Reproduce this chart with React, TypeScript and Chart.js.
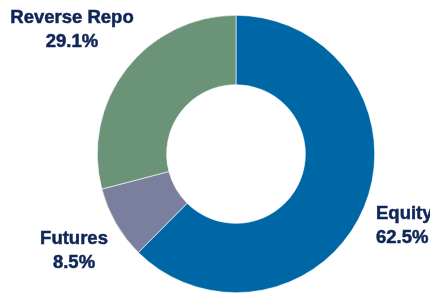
import React, { useEffect, useRef } from "react";
import { Chart, registerables } from "chart.js";

Chart.register(...registerables);

const categories = ["Equity", "Futures", "Reverse Repo"];
const shareValues = [62.5, 8.5, 29.1];
const valueLabels = ["62.5%", "8.5%", "29.1%"];
const sliceColors = ["#0067a7", "#7a7f9d", "#6a9377"];

// label anchor points (x, y of first baseline) and alignment
const labelPlacement = [
  { x: 376, y: 219, align: "left" as CanvasTextAlign },
  { x: 74, y: 244, align: "center" as CanvasTextAlign },
  { x: 72, y: 23, align: "center" as CanvasTextAlign },
];

const labelPlugin = {
  id: "outerLabels",
  afterDraw(chart: any) {
    const ctx = chart.ctx;
    ctx.save();
    ctx.fillStyle = "#0f2657";
    ctx.font = "bold 18.5px 'Liberation Sans', Arial, sans-serif";
    ctx.textBaseline = "alphabetic";
    ctx.strokeStyle = "#0f2657";
    ctx.lineWidth = 0.5;
    categories.forEach((c, i) => {
      const p = labelPlacement[i];
      ctx.textAlign = p.align;
      ctx.fillText(c, p.x, p.y);
      ctx.strokeText(c, p.x, p.y);
      ctx.fillText(valueLabels[i], p.x, p.y + 24);
      ctx.strokeText(valueLabels[i], p.x, p.y + 24);
    });
    ctx.restore();
  },
};

export default function App() {
  const ref = useRef<HTMLCanvasElement>(null);
  useEffect(() => {
    document.body.style.margin = "0";
    const chart = new Chart(ref.current!, {
      type: "doughnut",
      data: {
        labels: categories,
        datasets: [
          {
            data: shareValues,
            backgroundColor: sliceColors,
            borderColor: "#ffffff",
            borderWidth: 0.6,
          },
        ],
      },
      options: {
        animation: false,
        responsive: false,
        cutout: "50%",
        layout: { padding: { left: 97, right: 55, top: 15, bottom: 2 } },
        plugins: { legend: { display: false }, tooltip: { enabled: false } },
      },
      plugins: [labelPlugin],
    });
    return () => chart.destroy();
  }, []);
  return (
    <div style={{ width: 430, height: 295 }}>
      <canvas ref={ref} width={430} height={295} />
    </div>
  );
}
